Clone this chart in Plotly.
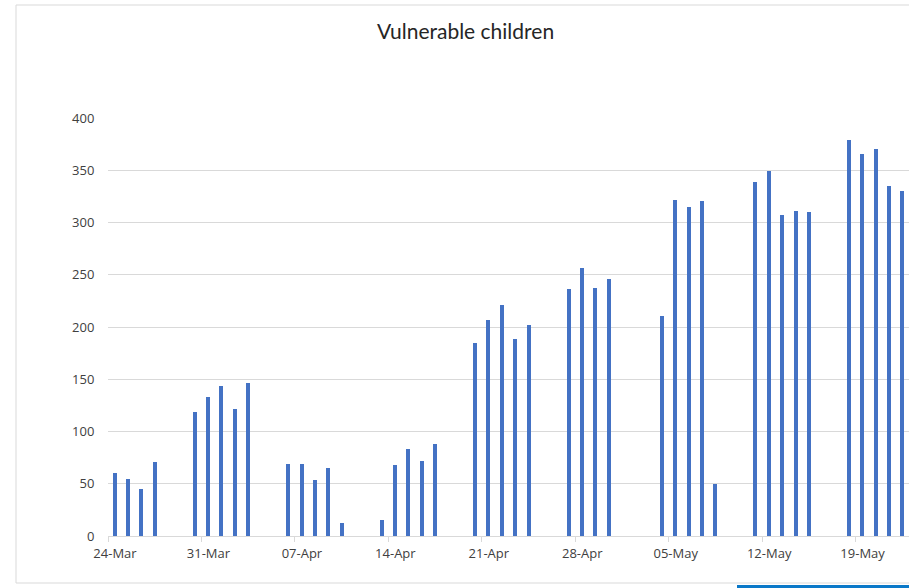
import plotly.graph_objects as go

# Daily attendance of vulnerable children (school days only)
dates = [
    "2020-03-24", "2020-03-25", "2020-03-26", "2020-03-27",
    "2020-03-30", "2020-03-31", "2020-04-01", "2020-04-02", "2020-04-03",
    "2020-04-06", "2020-04-07", "2020-04-08", "2020-04-09", "2020-04-10",
    "2020-04-13", "2020-04-14", "2020-04-15", "2020-04-16", "2020-04-17",
    "2020-04-20", "2020-04-21", "2020-04-22", "2020-04-23", "2020-04-24",
    "2020-04-27", "2020-04-28", "2020-04-29", "2020-04-30",
    "2020-05-04", "2020-05-05", "2020-05-06", "2020-05-07", "2020-05-08",
    "2020-05-11", "2020-05-12", "2020-05-13", "2020-05-14", "2020-05-15",
    "2020-05-18", "2020-05-19", "2020-05-20", "2020-05-21", "2020-05-22",
]
children = [
    60, 55, 45, 71,
    119, 133, 144, 122, 146,
    69, 69, 54, 65, 12,
    15, 68, 83, 72, 88,
    185, 207, 221, 189, 202,
    236, 256, 237, 246,
    211, 322, 315, 321, 50,
    339, 349, 307, 311, 310,
    379, 366, 370, 335, 330,
]
week_ticks = ["2020-03-24", "2020-03-31", "2020-04-07", "2020-04-14", "2020-04-21",
              "2020-04-28", "2020-05-05", "2020-05-12", "2020-05-19"]
y_ticks = [0, 50, 100, 150, 200, 250, 300, 350, 400]

DAY_MS = 86400000
W, H = 909, 588
L, R, T, B = 108, 0, 118, 52
PW, PH = W - L - R, H - T - B
day_px = PW / 60.0

fig = go.Figure(
    go.Bar(
        x=dates,
        y=children,
        xperiod=DAY_MS,
        xperiodalignment="middle",
        width=0.3 * DAY_MS,
        marker=dict(color="#4472C4", line=dict(width=0)),
        hoverinfo="x+y",
    )
)

def px_x(p):
    return (p - L) / PW

def px_y(p):
    return (H - B - p) / PH

# chart frame and the strip along the bottom edge
fig.add_shape(type="rect", xref="paper", yref="paper",
              x0=px_x(16), x1=px_x(920), y0=px_y(583), y1=px_y(5),
              line=dict(color="#D9D9D9", width=1), fillcolor="rgba(0,0,0,0)", layer="below")
fig.add_shape(type="rect", xref="paper", yref="paper",
              x0=px_x(737), x1=px_x(912), y0=px_y(590), y1=px_y(585),
              line=dict(width=0), fillcolor="#0A78C8", layer="above")

fig.update_layout(
    width=W, height=H,
    margin=dict(l=L, r=R, t=T, b=B),
    paper_bgcolor="white", plot_bgcolor="white",
    showlegend=False,
    bargap=0,
    title=dict(
        text="Vulnerable children",
        x=465.5 / W, xref="container", xanchor="center",
        y=1 - 32 / H, yref="container", yanchor="middle",
        font=dict(family="Lato, Carlito, sans-serif", size=21, color="#262626"),
    ),
    font=dict(family="Open Sans, Segoe UI, sans-serif", size=13, color="#595959"),
    xaxis=dict(
        type="date",
        range=["2020-03-24", "2020-05-23"],
        tickvals=week_ticks,
        tickformat="%d-%b",
        ticks="outside", ticklen=5, tickcolor="#D9D9D9",
        ticklabelshift=round(day_px / 2),
        showline=True, linecolor="#D9D9D9", linewidth=1,
        showgrid=False, zeroline=False,
        tickfont=dict(size=13, color="#404040"),
    ),
    yaxis=dict(
        range=[0, 400],
        tickvals=y_ticks,
        ticks="outside", ticklen=10, tickcolor="rgba(0,0,0,0)",
        showgrid=True, gridcolor="#D9D9D9", gridwidth=1,
        zeroline=False, showline=False,
        tickfont=dict(size=13, color="#404040"),
    ),
)

fig.write_html("out.html")
